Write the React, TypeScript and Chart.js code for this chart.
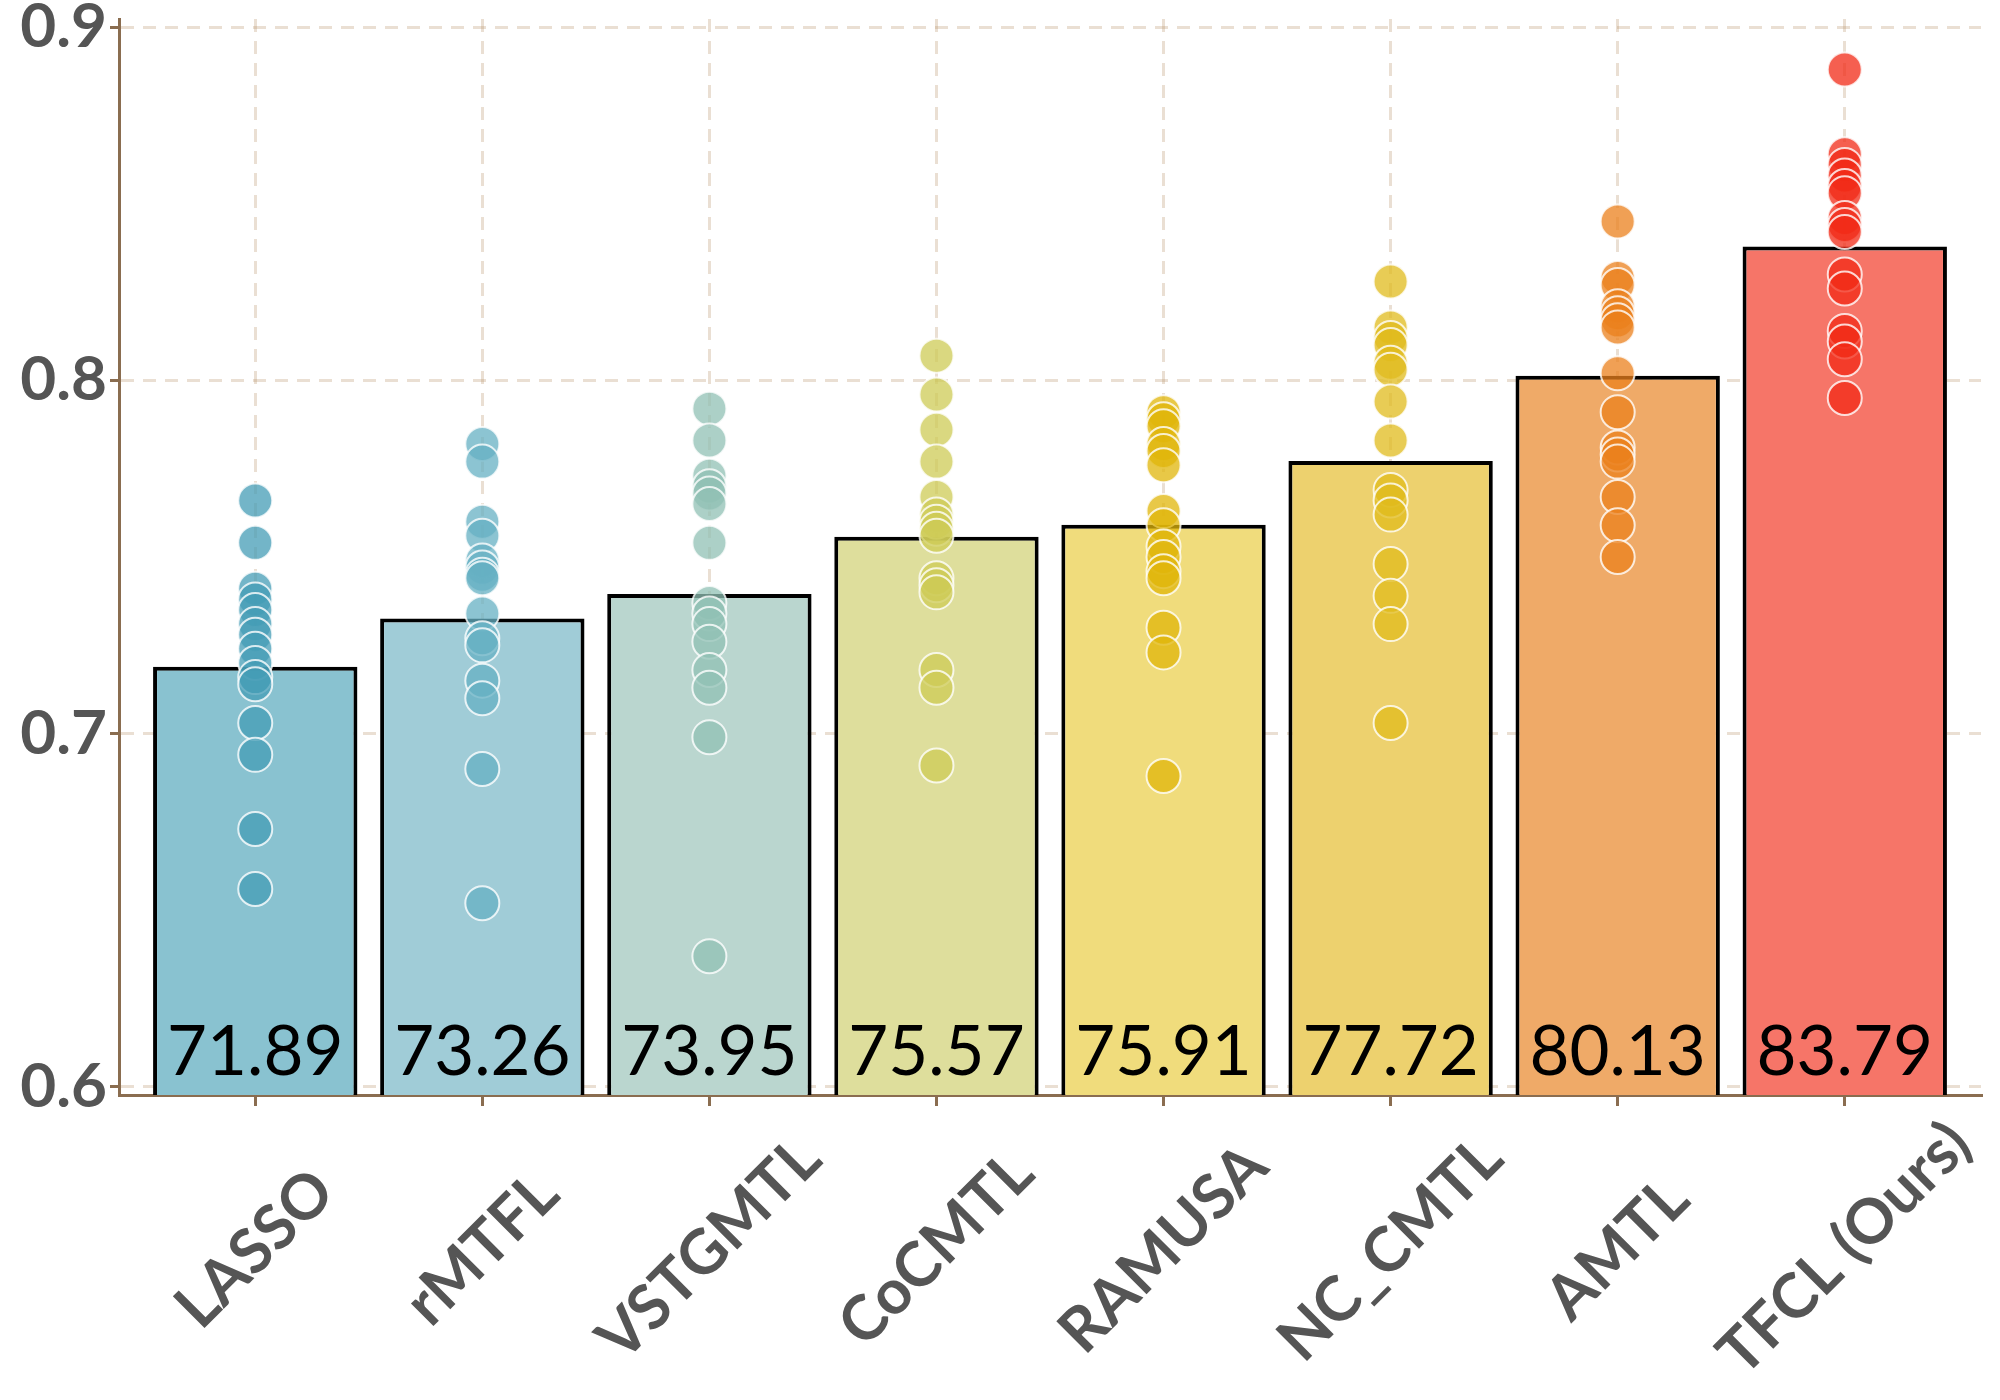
import React, { useEffect, useRef } from "react";
import { Chart, registerables } from "chart.js";

Chart.register(...registerables);

const categories = ["LASSO", "rMTFL", "VSTGMTL", "CoCMTL", "RAMUSA", "NC_CMTL", "AMTL", "TFCL (Ours)"];
const barValues = [0.7189, 0.7326, 0.7395, 0.7557, 0.7591, 0.7772, 0.8013, 0.8379];
const barLabels = ["71.89", "73.26", "73.95", "75.57", "75.91", "77.72", "80.13", "83.79"];
const yTicks = [0.6, 0.7, 0.8, 0.9];
const yTickLabels = ["0.6", "0.7", "0.8", "0.9"];

const lassoDots = [0.766, 0.754, 0.741, 0.738, 0.735, 0.731, 0.728, 0.724, 0.72, 0.716, 0.714, 0.703, 0.694, 0.673, 0.656];
const rmtflDots = [0.782, 0.777, 0.76, 0.756, 0.749, 0.747, 0.745, 0.744, 0.734, 0.727, 0.725, 0.715, 0.71, 0.69, 0.652];
const vstgmtlDots = [0.792, 0.783, 0.773, 0.77, 0.768, 0.765, 0.754, 0.737, 0.734, 0.731, 0.726, 0.718, 0.713, 0.699, 0.637];
const cocmtlDots = [0.807, 0.796, 0.786, 0.777, 0.767, 0.762, 0.76, 0.758, 0.756, 0.744, 0.742, 0.74, 0.718, 0.713, 0.691];
const ramusaDots = [0.791, 0.789, 0.787, 0.782, 0.78, 0.776, 0.763, 0.759, 0.753, 0.75, 0.746, 0.744, 0.73, 0.723, 0.688];
const ncCmtlDots = [0.828, 0.815, 0.812, 0.81, 0.805, 0.803, 0.794, 0.783, 0.769, 0.766, 0.762, 0.748, 0.739, 0.731, 0.703];
const amtlDots = [0.845, 0.829, 0.827, 0.821, 0.819, 0.817, 0.815, 0.802, 0.791, 0.781, 0.779, 0.777, 0.767, 0.759, 0.75];
const tfclDots = [0.888, 0.864, 0.861, 0.858, 0.855, 0.853, 0.846, 0.844, 0.842, 0.83, 0.826, 0.814, 0.811, 0.806, 0.795];

const barColors = ["#89c2d0", "#a0ccd7", "#bad6cf", "#dede9c", "#f0dc7c", "#edd16e", "#efaa68", "#f67568"];
const dotColors = [
  "rgba(68,156,182,0.75)",
  "rgba(102,176,195,0.75)",
  "rgba(144,192,180,0.75)",
  "rgba(206,203,86,0.75)",
  "rgba(224,182,10,0.75)",
  "rgba(224,187,28,0.75)",
  "rgba(235,128,28,0.75)",
  "rgba(242,42,22,0.75)",
];

const FONT = "Lato, 'Noto Sans', sans-serif";
const AXIS_COLOR = "#8a6d50";
const GRID_COLOR = "rgba(175,130,85,0.26)";
const TEXT_GRAY = "#555555";

export default function App() {
  const canvasRef = useRef<HTMLCanvasElement | null>(null);

  useEffect(() => {
    const canvas = canvasRef.current;
    if (!canvas) return;

    const allDots = [lassoDots, rmtflDots, vstgmtlDots, cocmtlDots, ramusaDots, ncCmtlDots, amtlDots, tfclDots];
    const points: { x: number; y: number }[] = [];
    const pointColors: string[] = [];
    allDots.forEach((arr, i) => {
      arr.forEach((v) => {
        points.push({ x: i, y: v });
        pointColors.push(dotColors[i]);
      });
    });

    const labelPlugin = {
      id: "customLabels",
      afterDraw(chart: any) {
        const { ctx, scales } = chart;
        const x = scales.x;
        const y = scales.y;
        ctx.save();
        // bar value labels
        ctx.font = `69px ${FONT}`;
        ctx.fillStyle = "#000000";
        ctx.textAlign = "center";
        ctx.textBaseline = "alphabetic";
        barLabels.forEach((t, i) => {
          ctx.fillText(t, x.getPixelForValue(i), y.bottom - 20);
        });
        // y tick labels
        ctx.font = `bold 62px ${FONT}`;
        ctx.fillStyle = TEXT_GRAY;
        ctx.textAlign = "right";
        ctx.textBaseline = "middle";
        yTicks.forEach((v, i) => {
          ctx.fillText(yTickLabels[i], x.left - 12, y.getPixelForValue(v));
        });
        // x tick labels, rotated 45°, centered
        ctx.font = `bold 62px ${FONT}`;
        ctx.textAlign = "center";
        ctx.textBaseline = "middle";
        categories.forEach((c, i) => {
          ctx.save();
          ctx.translate(x.getPixelForValue(i), y.bottom + 154);
          ctx.rotate(-Math.PI / 4);
          ctx.fillText(c, 0, 0);
          ctx.restore();
        });
        ctx.restore();
      },
    };

    const chart = new Chart(canvas, {
      type: "bar",
      data: {
        datasets: [
          {
            type: "scatter",
            data: points,
            backgroundColor: pointColors,
            borderColor: "rgba(255,255,255,0.8)",
            borderWidth: 2,
            pointRadius: 17,
            pointHoverRadius: 17,
            order: 0,
          } as any,
          {
            type: "bar",
            data: barValues.map((v, i) => ({ x: i, y: v })),
            backgroundColor: barColors,
            borderColor: "#000000",
            borderWidth: 4,
            borderSkipped: false,
            barPercentage: 0.9,
            categoryPercentage: 1,
            order: 1,
          } as any,
        ],
      },
      options: {
        animation: false,
        responsive: false,
        devicePixelRatio: 1,
        layout: { padding: { top: 15, right: 16, left: 0, bottom: 0 } },
        plugins: { legend: { display: false }, tooltip: { enabled: false } },
        scales: {
          x: {
            type: "linear",
            min: -0.6,
            max: 7.6,
            offset: false,
            z: 1,
            afterBuildTicks: (s: any) => {
              s.ticks = categories.map((_, i) => ({ value: i }));
            },
            afterFit: (s: any) => {
              s.height = 305;
            },
            ticks: { display: false },
            grid: {
              offset: false,
              color: GRID_COLOR,
              lineWidth: 3,
              drawTicks: true,
              tickLength: 11,
              tickColor: AXIS_COLOR,
              tickWidth: 3,
              tickBorderDash: [],
            },
            border: { display: true, color: AXIS_COLOR, width: 3, dash: [13, 9] },
          } as any,
          y: {
            type: "linear",
            min: 0.5977,
            max: 0.9023,
            z: 1,
            afterBuildTicks: (s: any) => {
              s.ticks = yTicks.map((v) => ({ value: v }));
            },
            afterFit: (s: any) => {
              s.width = 119;
            },
            ticks: { display: false },
            grid: {
              color: GRID_COLOR,
              lineWidth: 3,
              drawTicks: true,
              tickLength: 9,
              tickColor: AXIS_COLOR,
              tickWidth: 3,
              tickBorderDash: [],
            },
            border: { display: true, color: AXIS_COLOR, width: 3, dash: [13, 9] },
          } as any,
        },
      },
      plugins: [labelPlugin],
    });

    return () => {
      chart.destroy();
    };
  }, []);

  return (
    <div style={{ position: "absolute", left: 0, top: 0, width: 2000, height: 1400, background: "#ffffff" }}>
      <canvas ref={canvasRef} width={2000} height={1400} style={{ width: 2000, height: 1400, display: "block" }} />
    </div>
  );
}
